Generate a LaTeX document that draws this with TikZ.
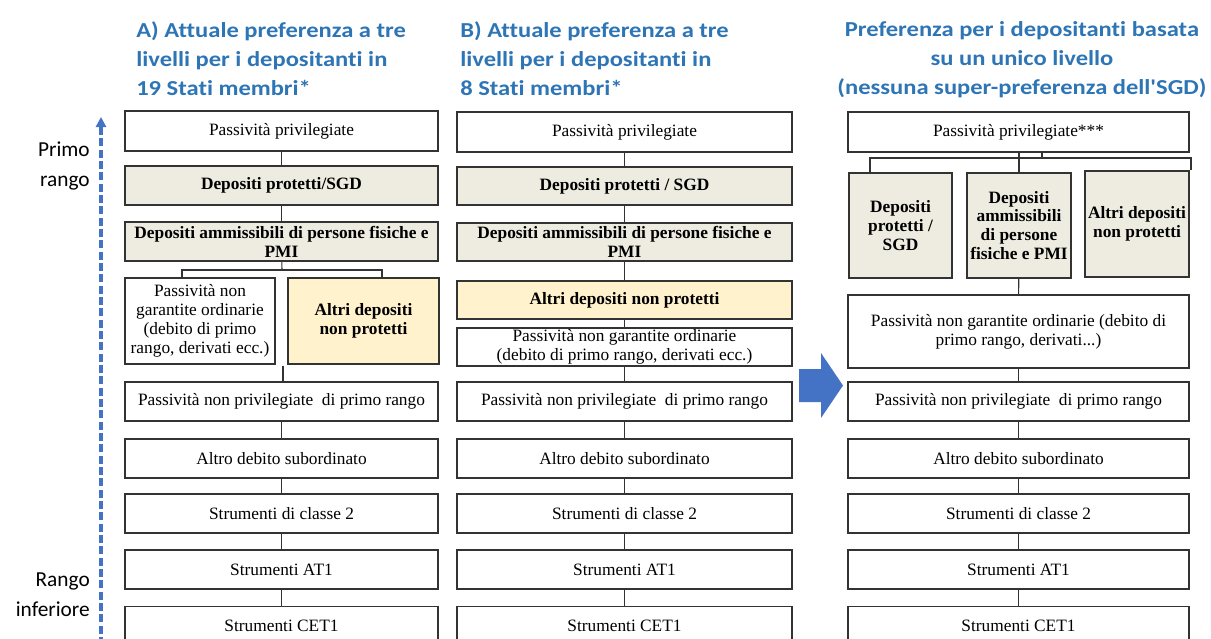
\documentclass[tikz,border=0pt]{standalone}
\usepackage{fontspec}
\setmainfont{Liberation Serif}
\newfontfamily\calibri[Ligatures=NoCommon]{Carlito}
\usetikzlibrary{arrows.meta,positioning,calc}
\definecolor{titleblue}{RGB}{46,117,182}
\definecolor{arrowblue}{RGB}{68,114,196}
\definecolor{depgray}{RGB}{238,236,225}
\definecolor{depyellow}{RGB}{255,242,204}
\def\pxu{0.75pt}

\begin{document}
\begin{tikzpicture}[x=0.75pt,y=-0.75pt,
  box/.style={draw=black!80,line width=0.9pt,fill=white,align=center,inner sep=1pt,
    font=\fontsize{13}{14.2}\selectfont},
  dep/.style={box,fill=depgray,font=\fontsize{13}{14.2}\selectfont\bfseries},
  other/.style={dep,fill=depyellow},
  link/.style={draw=black!80,line width=0.8pt},
  title/.style={text=titleblue,align=left,inner sep=0pt,xscale=1.15,
    font=\calibri\bfseries\fontsize{16}{21.75}\selectfont},
  side/.style={align=right,inner sep=0pt,anchor=north east,
    font=\calibri\fontsize{16}{22.5}\selectfont}]
  \useasboundingbox (0,0) rectangle (1211,639);
  \clip (0,0) rectangle (1211,639);

  % titoli
  \node[title,anchor=north west] (titA) at (136,21)
    {A) Attuale preferenza a tre\\livelli per i depositanti in\\19 Stati membri*};
  \node[title,anchor=north west] (titB) at (460,21)
    {B) Attuale preferenza a tre\\livelli per i depositanti in\\8 Stati membri*};
  \node[title,anchor=north,align=center] (titC) at (1022,21)
    {Preferenza per i depositanti basata\\su un unico livello\\(nessuna super-preferenza dell'SGD)};

  % asse del rango
  \node[side] (primo) at (90,142) {Primo\\rango};
  \node[side] (infer) at (90,573) {Rango\\inferiore};
  \coordinate (rangoBot) at (101,645);
  \coordinate (rangoTop) at (101,117);
  \draw[arrowblue,line width=2.7pt,dash pattern=on 6pt off 2.5pt,
    -{Triangle[length=7.5pt,width=7.5pt]}] (rangoBot) -- (rangoTop);

  % colonna A
  \def\wA{313}
  \node[box,minimum width=\wA*\pxu,minimum height=40*\pxu] (A1) at (281.5,131) {Passività privilegiate};
  \node[dep,minimum width=\wA*\pxu,minimum height=39*\pxu] (A2) at (281.5,185.5) {Depositi protetti/SGD};
  \node[dep,minimum width=\wA*\pxu,minimum height=39*\pxu] (A3) at (281.5,241.5)
    {Depositi ammissibili di persone fisiche e\\PMI};
  \node[box,minimum width=150*\pxu,minimum height=86*\pxu] (A4) at (200,321)
    {Passività non\\garantite ordinarie\\(debito di primo\\rango, derivati ecc.)};
  \node[other,minimum width=151*\pxu,minimum height=86*\pxu] (A5) at (363.5,321)
    {Altri depositi\\non protetti};
  \draw[link] (A1) -- (A2) -- (A3);
  \coordinate (forkA) at (282,270);
  \draw[link] (A3) -- (forkA);
  \draw[link] (182,0 |- A4.north) |- (forkA) -| (382,0 |- A5.north);
  \coordinate (gapA) at (283,366);

  % colonna B
  \def\wB{335}
  \node[box,minimum width=\wB*\pxu,minimum height=40*\pxu] (B1) at (624.5,132) {Passività privilegiate};
  \node[dep,minimum width=\wB*\pxu,minimum height=38*\pxu] (B2) at (624.5,186) {Depositi protetti / SGD};
  \node[dep,minimum width=\wB*\pxu,minimum height=38*\pxu] (B3) at (624.5,242)
    {Depositi ammissibili di persone fisiche e\\PMI};
  \node[other,minimum width=\wB*\pxu,minimum height=38*\pxu] (B4) at (624.5,300)
    {Altri depositi non protetti};
  \node[box,minimum width=\wB*\pxu,minimum height=38*\pxu] (B5) at (624.5,347)
    {Passività non garantite ordinarie\\(debito di primo rango, derivati ecc.)};
  \draw[link] (B1) -- (B2) -- (B3) -- (B4) -- (B5);

  % colonna C
  \def\wC{341}
  \node[box,minimum width=\wC*\pxu,minimum height=40*\pxu] (C1) at (1018.5,132) {Passività privilegiate***};
  \node[dep,minimum width=103*\pxu,minimum height=105*\pxu] (Ca) at (900.5,225.5)
    {Depositi\\protetti /\\SGD};
  \node[dep,minimum width=104*\pxu,minimum height=105*\pxu] (Cb) at (1019,225.5)
    {Depositi\\ammissibili\\di persone\\fisiche e PMI};
  \node[dep,minimum width=104*\pxu,minimum height=106*\pxu] (Cc) at (1137,224)
    {Altri depositi\\non protetti};
  \node[box,minimum width=\wC*\pxu,minimum height=73*\pxu] (C5) at (1018.5,331.5)
    {Passività non garantite ordinarie (debito di\\primo rango, derivati...)};
  \coordinate (forkC) at (1019,158);
  \draw[link] (C1.south -| Cb) -- (Cb);
  \draw[link] (1042,0 |- C1.south) |- (forkC);
  \draw[link] (870,0 |- Ca.north) |- (1191,158) -- (1191,0 |- Cc.north);
  \draw[link] (Cb) -- (C5);

  % livelli comuni
  \foreach \c/\x/\w in {A/281.5/313, B/624.5/335, C/1018.5/341} {
    \node[box,minimum width=\w*\pxu,minimum height=39*\pxu] (\c6) at (\x,401.5)
      {Passività non privilegiate~ di primo rango};
    \node[box,minimum width=\w*\pxu,minimum height=39*\pxu] (\c7) at (\x,458.5) {Altro debito subordinato};
    \node[box,minimum width=\w*\pxu,minimum height=39*\pxu] (\c8) at (\x,513.5) {Strumenti di classe 2};
    \node[box,minimum width=\w*\pxu,minimum height=39*\pxu] (\c9) at (\x,569.5) {Strumenti AT1};
    \node[box,minimum width=\w*\pxu,minimum height=39*\pxu] (\c10) at (\x,626) {Strumenti CET1};
    \draw[link] (\c6) -- (\c7) -- (\c8) -- (\c9) -- (\c10);
  }
  \draw[link] (gapA) -- (gapA |- A6.north);
  \draw[link] (B5) -- (B6);
  \draw[link] (C5) -- (C6);

  % freccia
  \fill[arrowblue] (799,369) -- (821,369) -- (821,353) -- (843,385.5)
    -- (821,418) -- (821,402) -- (799,402) -- cycle;
\end{tikzpicture}
\end{document}
